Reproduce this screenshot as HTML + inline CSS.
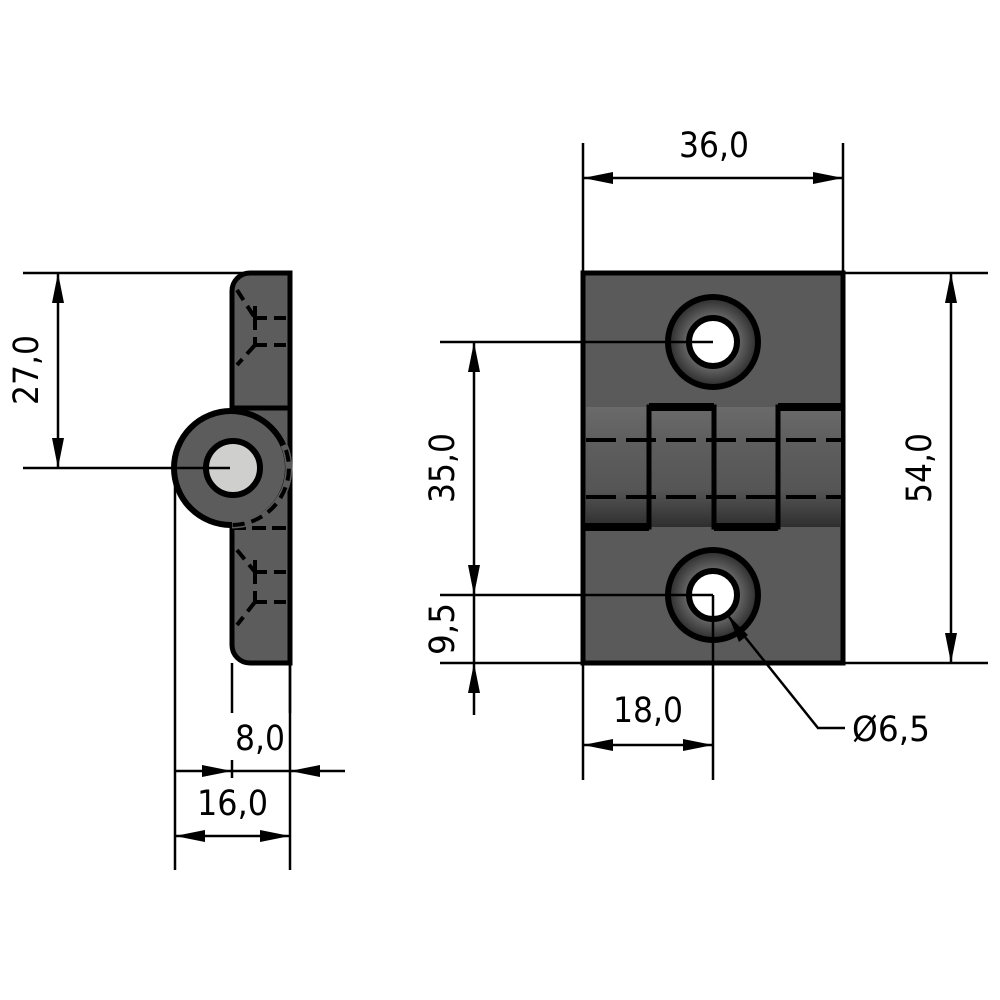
<!DOCTYPE html>
<html><head><meta charset="utf-8"><style>
html,body{margin:0;padding:0;background:#fff}
svg{display:block}
text{font-family:"DejaVu Sans","Liberation Sans",sans-serif;font-size:35px;fill:#000}
</style></head><body>
<svg width="1000" height="1000" viewBox="0 0 1000 1000" xmlns="http://www.w3.org/2000/svg">
<defs>
<linearGradient id="knk" x1="0" y1="0" x2="0" y2="1">
<stop offset="0" stop-color="#6a6a6a"/><stop offset="0.3" stop-color="#5e5e5e"/><stop offset="0.7" stop-color="#555"/><stop offset="1" stop-color="#2e2e2e"/>
</linearGradient>
<radialGradient id="csk" cx="0.5" cy="0.5" r="0.5">
<stop offset="0.45" stop-color="#777"/><stop offset="1" stop-color="#2a2a2a"/>
</radialGradient>
</defs>

<!-- SIDE VIEW -->
<path d="M250,273 H290 V663 H250 A18,18 0 0 1 232,645 V291 A18,18 0 0 1 250,273 Z" fill="#5c5c5c" stroke="#000" stroke-width="5"/>
<line x1="232" y1="408" x2="290" y2="408" stroke="#000" stroke-width="5"/>
<line x1="232" y1="528" x2="290" y2="528" stroke="#000" stroke-width="4" stroke-dasharray="14,6"/>
<g stroke="#000" stroke-width="4" fill="none" stroke-dasharray="12,7">
<path d="M255,318 H290 M255,318 V300 M255,318 V345 M255,345 H290 M255,345 L237,365"/>
<path d="M237,290 L255,318"/>
<path d="M255,572 H290 M255,572 V555 M255,572 V602 M255,602 H290 M255,602 L237,625"/>
<path d="M237,550 L255,572"/>
</g>
<circle cx="231" cy="468" r="57" fill="#5c5c5c" stroke="#000" stroke-width="6"/>
<path d="M284,445 A57,57 0 0 1 232,525" fill="none" stroke="#5c5c5c" stroke-width="7"/>
<path d="M286,450 A57,57 0 0 1 232,525" fill="none" stroke="#000" stroke-width="4" stroke-dasharray="12,7"/>
<circle cx="233" cy="468" r="27" fill="#cfcfcd" stroke="#000" stroke-width="6"/>

<!-- FRONT VIEW -->
<rect x="583" y="273" width="260" height="390" fill="#5a5a5a" stroke="#000" stroke-width="5"/>
<rect x="586" y="407" width="255" height="120" fill="url(#knk)"/>
<g stroke="#000" stroke-width="4" stroke-dasharray="30,10">
<line x1="586" y1="440" x2="841" y2="440"/>
<line x1="586" y1="497" x2="841" y2="497"/>
</g>
<path d="M583,527 H649 V407 H714 V527 H778 V407 H843" fill="none" stroke="#000" stroke-width="5"/>
<path d="M583,527 H649 M714,527 H778 M649,407 H714 M778,407 H843" fill="none" stroke="#000" stroke-width="8"/>
<circle cx="713" cy="342" r="45" fill="url(#csk)" stroke="#000" stroke-width="6"/>
<circle cx="713" cy="342" r="24" fill="#fff" stroke="#000" stroke-width="6"/>
<circle cx="713" cy="595" r="45" fill="url(#csk)" stroke="#000" stroke-width="6"/>
<circle cx="713" cy="595" r="24" fill="#fff" stroke="#000" stroke-width="6"/>

<!-- DIMENSION LINES -->
<g stroke="#000" stroke-width="2.5" fill="none">
<line x1="23" y1="273" x2="250" y2="273"/>
<line x1="23" y1="468" x2="230" y2="468"/>
<line x1="58" y1="273" x2="58" y2="468"/>
<line x1="175" y1="470" x2="175" y2="870"/>
<line x1="290" y1="663" x2="290" y2="870"/>
<line x1="232" y1="663" x2="232" y2="713"/>
<line x1="232" y1="760" x2="232" y2="778"/>
<line x1="290" y1="663" x2="290" y2="713"/>
<line x1="175" y1="771" x2="345" y2="771"/>
<line x1="175" y1="836" x2="290" y2="836"/>
<line x1="583" y1="143" x2="583" y2="273"/>
<line x1="843" y1="143" x2="843" y2="273"/>
<line x1="583" y1="178" x2="843" y2="178"/>
<line x1="843" y1="273" x2="988" y2="273"/>
<line x1="843" y1="663" x2="988" y2="663"/>
<line x1="951" y1="273" x2="951" y2="663"/>
<line x1="440" y1="342" x2="713" y2="342"/>
<line x1="440" y1="595" x2="713" y2="595"/>
<line x1="440" y1="663" x2="583" y2="663"/>
<line x1="474" y1="342" x2="474" y2="715"/>
<line x1="583" y1="663" x2="583" y2="780"/>
<line x1="713" y1="595" x2="713" y2="780"/>
<line x1="583" y1="745" x2="713" y2="745"/>
<polyline points="729,617 818,728 845,728"/>
</g>
<g fill="#000">
<polygon points="58,273 52,303 64,303"/>
<polygon points="58,468 52,438 64,438"/>
<polygon points="232,771 202,765 202,777"/>
<polygon points="290,771 320,765 320,777"/>
<polygon points="175,836 205,830 205,842"/>
<polygon points="290,836 260,830 260,842"/>
<polygon points="583,178 613,172 613,184"/>
<polygon points="843,178 813,172 813,184"/>
<polygon points="951,273 945,303 957,303"/>
<polygon points="951,663 945,633 957,633"/>
<polygon points="474,342 468,372 480,372"/>
<polygon points="474,595 468,565 480,565"/>
<polygon points="474,663 468,693 480,693"/>
<polygon points="583,745 613,739 613,751"/>
<polygon points="713,745 683,739 683,751"/>
<polygon points="728,615 739,642 748,635"/>
</g>

<!-- TEXT -->
<text x="679" y="157" textLength="70" lengthAdjust="spacingAndGlyphs">36,0</text>
<text transform="translate(38,405) rotate(-90)" textLength="70" lengthAdjust="spacingAndGlyphs">27,0</text>
<text transform="translate(454,503) rotate(-90)" textLength="70" lengthAdjust="spacingAndGlyphs">35,0</text>
<text transform="translate(454,655) rotate(-90)" textLength="52" lengthAdjust="spacingAndGlyphs">9,5</text>
<text transform="translate(931,503) rotate(-90)" textLength="70" lengthAdjust="spacingAndGlyphs">54,0</text>
<text x="235" y="750" textLength="50" lengthAdjust="spacingAndGlyphs">8,0</text>
<text x="197" y="815" textLength="71" lengthAdjust="spacingAndGlyphs">16,0</text>
<text x="613" y="722" textLength="70" lengthAdjust="spacingAndGlyphs">18,0</text>
<text x="852" y="741" textLength="78" lengthAdjust="spacingAndGlyphs">Ø6,5</text>
</svg>
</body></html>
